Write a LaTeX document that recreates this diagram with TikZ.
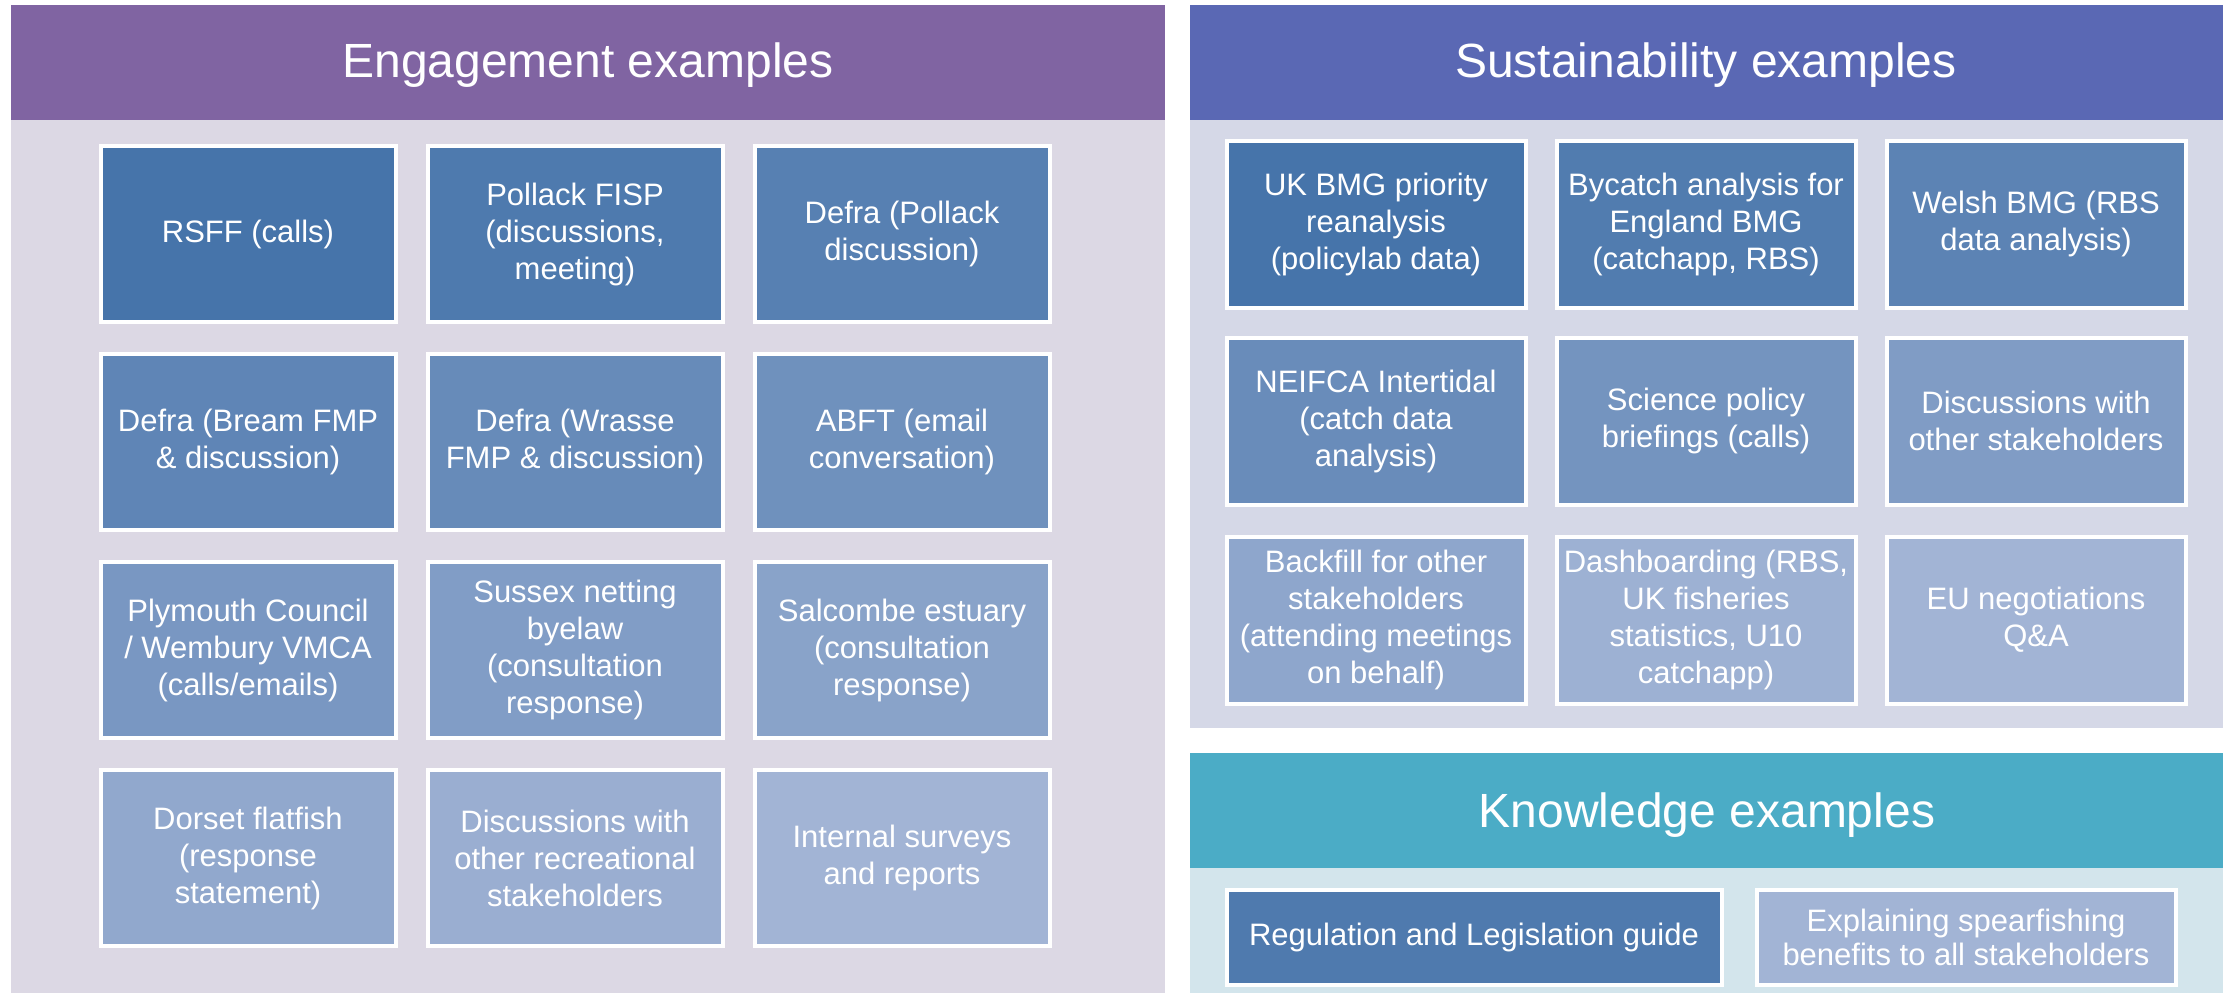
\documentclass[tikz,border=0pt]{standalone}
\usepackage{fontspec}
\setmainfont{Liberation Sans}

\definecolor{engHead}{HTML}{8064A2}
\definecolor{engBody}{HTML}{DCD8E4}
\definecolor{susHead}{HTML}{5A68B4}
\definecolor{susBody}{HTML}{D5D8E7}
\definecolor{knwHead}{HTML}{4BACC6}
\definecolor{knwBody}{HTML}{D3E5EC}
\definecolor{bxDark}{HTML}{4674AA}
\definecolor{bxLight}{HTML}{A2B4D5}

\begin{document}
\begin{tikzpicture}[x=1pt, y=-1pt]
	\tikzset{bx/.style={rectangle, draw=white, line width=4pt, inner sep=0pt, align=center, text=white, font=\fontsize{31}{37}\selectfont},
		ebx/.style={bx, minimum width=295pt, minimum height=176pt},
		sbx/.style={bx, minimum width=299pt, minimum height=167pt},
		ttl/.style={anchor=base, text=white, font=\fontsize{48}{58}\selectfont}};

	\fill[white] (0,0) rectangle (2223,993);
	\useasboundingbox (0,0) rectangle (2223,993);

	% panels
	\fill[engBody] (11,120) rectangle (1165,993);
	\fill[engHead] (11,5) rectangle (1165,120);
	\fill[susBody] (1190,120) rectangle (2223,728);
	\fill[susHead] (1190,5) rectangle (2223,120);
	\fill[knwBody] (1190,868) rectangle (2223,993);
	\fill[knwHead] (1190,753) rectangle (2223,868);

	\node[ttl] (et) at (588, 77) {Engagement examples};
	\node[ttl] (st) at (1706, 77) {Sustainability examples};
	\node[ttl] (kt) at (1707, 827) {Knowledge examples};

	% engagement
	\node[ebx, fill=bxDark] (e1) at (248, 234) {RSFF (calls)};
	\node[ebx, fill=bxDark!91!bxLight] (e2) at (575, 234) {Pollack FISP\\(discussions,\\meeting)};
	\node[ebx, fill=bxDark!82!bxLight] (e3) at (902, 234) {Defra (Pollack\\discussion)};
	\node[ebx, fill=bxDark!73!bxLight] (e4) at (248, 442) {Defra (Bream FMP\\\& discussion)};
	\node[ebx, fill=bxDark!64!bxLight] (e5) at (575, 442) {Defra (Wrasse\\FMP \& discussion)};
	\node[ebx, fill=bxDark!55!bxLight] (e6) at (902, 442) {ABFT (email\\conversation)};
	\node[ebx, fill=bxDark!45!bxLight] (e7) at (248, 650) {Plymouth Council\\/ Wembury VMCA\\(calls/emails)};
	\node[ebx, fill=bxDark!36!bxLight] (e8) at (575, 650) {Sussex netting\\byelaw\\(consultation\\response)};
	\node[ebx, fill=bxDark!27!bxLight] (e9) at (902, 650) {Salcombe estuary\\(consultation\\response)};
	\node[ebx, fill=bxDark!18!bxLight] (e10) at (248, 858) {Dorset flatfish\\(response\\statement)};
	\node[ebx, fill=bxDark!9!bxLight] (e11) at (575, 858) {Discussions with\\other recreational\\stakeholders};
	\node[ebx, fill=bxLight] (e12) at (902, 858) {Internal surveys\\and reports};

	% sustainability
	\node[sbx, fill=bxDark] (s1) at (1376, 224) {UK BMG priority\\reanalysis\\(policylab data)};
	\node[sbx, fill=bxDark!88!bxLight] (s2) at (1706, 224) {Bycatch analysis for\\England BMG\\(catchapp, RBS)};
	\node[sbx, fill=bxDark!76!bxLight] (s3) at (2036, 224) {Welsh BMG (RBS\\data analysis)};
	\node[sbx, fill=bxDark!62!bxLight] (s4) at (1376, 421) {NEIFCA Intertidal\\(catch data\\analysis)};
	\node[sbx, fill=bxDark!50!bxLight] (s5) at (1706, 421) {Science policy\\briefings (calls)};
	\node[sbx, fill=bxDark!37!bxLight] (s6) at (2036, 421) {Discussions with\\other stakeholders};
	\node[sbx, fill=bxDark!22!bxLight] (s7) at (1376, 620) {Backfill for other\\stakeholders\\(attending meetings\\on behalf)};
	\node[sbx, fill=bxDark!5!bxLight] (s8) at (1706, 620) {Dashboarding (RBS,\\UK fisheries\\statistics, U10\\catchapp)};
	\node[sbx, fill=bxLight] (s9) at (2036, 620) {EU negotiations\\Q\&A};

	% knowledge
	\node[bx, fill=bxDark!90!bxLight, minimum width=495pt, minimum height=95pt] (k1) at (1474, 937) {Regulation and Legislation guide};
	\node[bx, fill=bxLight, minimum width=419pt, minimum height=95pt, font=\fontsize{31}{34}\selectfont] (k2) at (1966, 937) {Explaining spearfishing\\benefits to all stakeholders};
\end{tikzpicture}
\end{document}
